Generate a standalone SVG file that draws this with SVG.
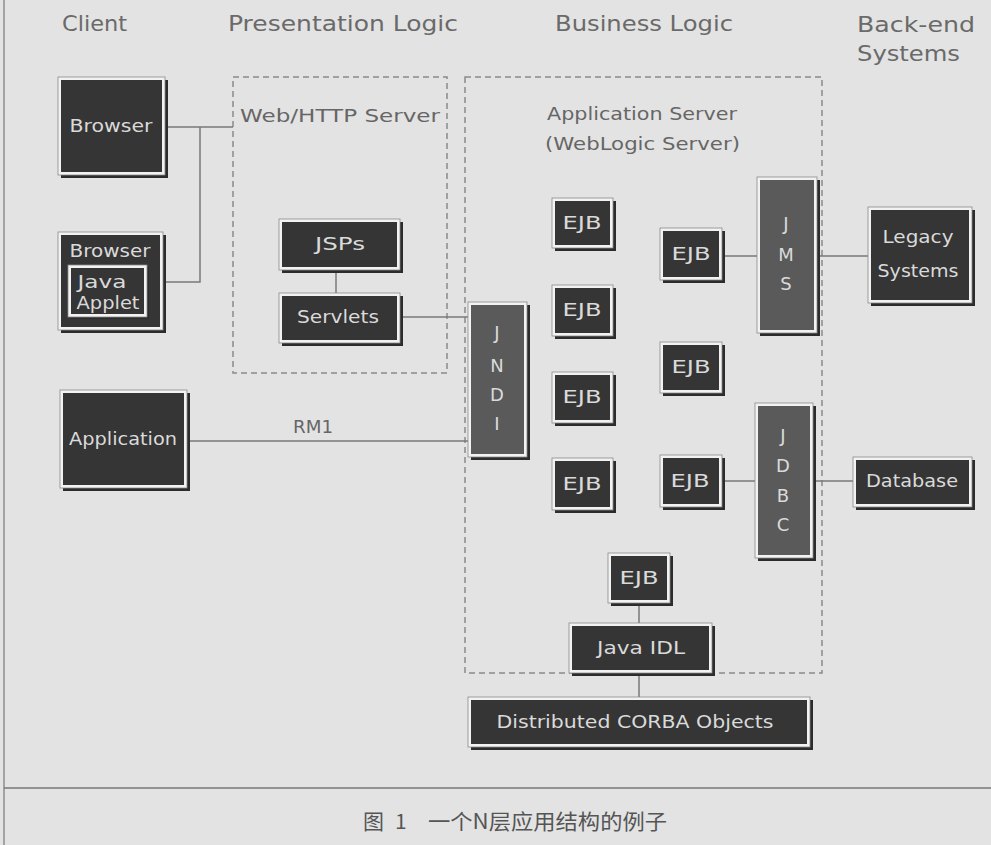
<svg xmlns="http://www.w3.org/2000/svg" width="991" height="845" viewBox="0 0 991 845">
<style>
.bg{fill:#e3e3e3}
.sh{fill:#2c2c2c}
.bv{fill:#f2f2f2;stroke:#8a8a8a;stroke-width:0.8}
.in{fill:#353535}
.inm{fill:#5a5a5a}
.t{font-family:"DejaVu Sans","Liberation Sans",sans-serif;font-size:18px;fill:#dadada;text-anchor:middle}
.h{font-family:"DejaVu Sans","Liberation Sans",sans-serif;font-size:21px;fill:#6a6a6a}
.l{font-family:"DejaVu Sans","Liberation Sans",sans-serif;font-size:17px;fill:#666}
.dash{fill:none;stroke:#8a8a8a;stroke-width:1.5;stroke-dasharray:6 4}
.c{fill:none;stroke:#7a7a7a;stroke-width:1.5}
.cap{font-family:"Noto Sans CJK SC",sans-serif;font-size:21px;fill:#555}
</style>
<rect class="bg" x="0" y="0" width="991" height="845"/>
<line x1="4" y1="0" x2="4" y2="845" stroke="#777" stroke-width="1.2"/>
<line x1="4" y1="788" x2="991" y2="788" stroke="#777" stroke-width="1.5"/>

<g id="headers">
<text class="h" x="62" y="31" textLength="65" lengthAdjust="spacingAndGlyphs">Client</text>
<text class="h" x="228" y="31" textLength="230" lengthAdjust="spacingAndGlyphs">Presentation Logic</text>
<text class="h" x="555" y="31" textLength="178" lengthAdjust="spacingAndGlyphs">Business Logic</text>
<text class="h" x="857" y="32" textLength="118" lengthAdjust="spacingAndGlyphs">Back-end</text>
<text class="h" x="857" y="61" textLength="103" lengthAdjust="spacingAndGlyphs">Systems</text>
</g>

<g id="web-server">
<rect class="dash" x="233" y="77" width="214" height="296"/>
<text class="l" x="240" y="122" textLength="200" lengthAdjust="spacingAndGlyphs">Web/HTTP Server</text>
</g>
<g id="app-server">
<rect class="dash" x="465" y="77" width="357" height="596"/>
<text class="l" x="547" y="120" textLength="190" lengthAdjust="spacingAndGlyphs">Application Server</text>
<text class="l" x="545" y="150" textLength="195" lengthAdjust="spacingAndGlyphs">(WebLogic Server)</text>
</g>

<g id="connectors">
<path class="c" d="M165,127 H233 M200,127 V282 H165"/>
<path class="c" d="M336,270 V293"/>
<path class="c" d="M400,317 H468"/>
<path class="c" d="M187,441 H468"/>
<path class="c" d="M722,256 H757 M817,256 H868"/>
<path class="c" d="M722,481 H755 M813,481 H853"/>
<path class="c" d="M639,603 V623 M639,673 V697"/>
<text class="l" x="313" y="433" text-anchor="middle" textLength="40" lengthAdjust="spacingAndGlyphs">RM1</text>
</g>

<g id="browser1">
<rect class="sh" x="61" y="80" width="107" height="98"/>
<rect class="bv" x="58" y="77" width="107" height="98"/>
<rect class="in" x="61" y="80" width="101" height="92"/>
<text class="t" x="111" y="132" textLength="83" lengthAdjust="spacingAndGlyphs">Browser</text>
</g>
<g id="browser2">
<rect class="sh" x="61" y="235" width="105" height="98"/>
<rect class="bv" x="58" y="232" width="105" height="98"/>
<rect class="in" x="61" y="235" width="99" height="92"/>
<text class="t" x="110" y="257" textLength="81" lengthAdjust="spacingAndGlyphs">Browser</text>
<rect class="sh" x="70" y="267" width="79" height="52"/>
<rect class="bv" x="68" y="265" width="79" height="52"/>
<rect class="in" x="71" y="268" width="73" height="46"/>
<text class="t" x="102" y="288" textLength="49" lengthAdjust="spacingAndGlyphs">Java</text>
<text class="t" x="108" y="309" textLength="63" lengthAdjust="spacingAndGlyphs">Applet</text>
</g>
<g id="application">
<rect class="sh" x="63" y="393" width="127" height="98"/>
<rect class="bv" x="60" y="390" width="127" height="98"/>
<rect class="in" x="63" y="393" width="121" height="92"/>
<text class="t" x="123" y="445" textLength="108" lengthAdjust="spacingAndGlyphs">Application</text>
</g>
<g id="jsps">
<rect class="sh" x="282" y="222" width="121" height="51"/>
<rect class="bv" x="279" y="219" width="121" height="51"/>
<rect class="in" x="282" y="222" width="115" height="45"/>
<text class="t" x="340" y="250" textLength="50" lengthAdjust="spacingAndGlyphs">JSPs</text>
</g>
<g id="servlets">
<rect class="sh" x="282" y="296" width="121" height="50"/>
<rect class="bv" x="279" y="293" width="121" height="50"/>
<rect class="in" x="282" y="296" width="115" height="44"/>
<text class="t" x="338" y="323" textLength="82" lengthAdjust="spacingAndGlyphs">Servlets</text>
</g>
<g id="jndi">
<rect class="sh" x="471" y="305" width="59" height="155"/>
<rect class="bv" x="468" y="302" width="59" height="155"/>
<rect class="inm" x="471" y="305" width="53" height="149"/>
<text class="t" x="497" y="339">J</text>
<text class="t" x="497" y="372">N</text>
<text class="t" x="497" y="401">D</text>
<text class="t" x="497" y="430">I</text>
</g>
<g id="ejb1">
<rect class="sh" x="555" y="201" width="61" height="50"/>
<rect class="bv" x="552" y="198" width="61" height="50"/>
<rect class="in" x="555" y="201" width="55" height="44"/>
<text class="t" x="582" y="229" textLength="39" lengthAdjust="spacingAndGlyphs">EJB</text>
</g>
<g id="ejb2">
<rect class="sh" x="555" y="288" width="61" height="51"/>
<rect class="bv" x="552" y="285" width="61" height="51"/>
<rect class="in" x="555" y="288" width="55" height="45"/>
<text class="t" x="582" y="316" textLength="39" lengthAdjust="spacingAndGlyphs">EJB</text>
</g>
<g id="ejb3">
<rect class="sh" x="555" y="375" width="61" height="51"/>
<rect class="bv" x="552" y="372" width="61" height="51"/>
<rect class="in" x="555" y="375" width="55" height="45"/>
<text class="t" x="582" y="403" textLength="39" lengthAdjust="spacingAndGlyphs">EJB</text>
</g>
<g id="ejb4">
<rect class="sh" x="555" y="461" width="61" height="52"/>
<rect class="bv" x="552" y="458" width="61" height="52"/>
<rect class="in" x="555" y="461" width="55" height="46"/>
<text class="t" x="582" y="490" textLength="39" lengthAdjust="spacingAndGlyphs">EJB</text>
</g>
<g id="ejb5">
<rect class="sh" x="663" y="231" width="62" height="52"/>
<rect class="bv" x="660" y="228" width="62" height="52"/>
<rect class="in" x="663" y="231" width="56" height="46"/>
<text class="t" x="691" y="260" textLength="39" lengthAdjust="spacingAndGlyphs">EJB</text>
</g>
<g id="ejb6">
<rect class="sh" x="663" y="345" width="62" height="51"/>
<rect class="bv" x="660" y="342" width="62" height="51"/>
<rect class="in" x="663" y="345" width="56" height="45"/>
<text class="t" x="691" y="373" textLength="39" lengthAdjust="spacingAndGlyphs">EJB</text>
</g>
<g id="ejb7">
<rect class="sh" x="663" y="458" width="62" height="52"/>
<rect class="bv" x="660" y="455" width="62" height="52"/>
<rect class="in" x="663" y="458" width="56" height="46"/>
<text class="t" x="690" y="487" textLength="39" lengthAdjust="spacingAndGlyphs">EJB</text>
</g>
<g id="jms">
<rect class="sh" x="760" y="180" width="60" height="156"/>
<rect class="bv" x="757" y="177" width="60" height="156"/>
<rect class="inm" x="760" y="180" width="54" height="150"/>
<text class="t" x="786" y="230">J</text>
<text class="t" x="786" y="261">M</text>
<text class="t" x="786" y="290">S</text>
</g>
<g id="jdbc">
<rect class="sh" x="758" y="406" width="58" height="155"/>
<rect class="bv" x="755" y="403" width="58" height="155"/>
<rect class="inm" x="758" y="406" width="52" height="149"/>
<text class="t" x="783" y="442">J</text>
<text class="t" x="783" y="472">D</text>
<text class="t" x="783" y="502">B</text>
<text class="t" x="783" y="531">C</text>
</g>
<g id="legacy">
<rect class="sh" x="871" y="210" width="104" height="96"/>
<rect class="bv" x="868" y="207" width="104" height="96"/>
<rect class="in" x="871" y="210" width="98" height="90"/>
<text class="t" x="918" y="243" textLength="71" lengthAdjust="spacingAndGlyphs">Legacy</text>
<text class="t" x="918" y="277" textLength="81" lengthAdjust="spacingAndGlyphs">Systems</text>
</g>
<g id="database">
<rect class="sh" x="856" y="460" width="119" height="50"/>
<rect class="bv" x="853" y="457" width="119" height="50"/>
<rect class="in" x="856" y="460" width="113" height="44"/>
<text class="t" x="912" y="487" textLength="92" lengthAdjust="spacingAndGlyphs">Database</text>
</g>
<g id="ejb8">
<rect class="sh" x="611" y="556" width="62" height="50"/>
<rect class="bv" x="608" y="553" width="62" height="50"/>
<rect class="in" x="611" y="556" width="56" height="44"/>
<text class="t" x="639" y="584" textLength="39" lengthAdjust="spacingAndGlyphs">EJB</text>
</g>
<g id="java-idl">
<rect class="sh" x="572" y="626" width="143" height="50"/>
<rect class="bv" x="569" y="623" width="143" height="50"/>
<rect class="in" x="572" y="626" width="137" height="44"/>
<text class="t" x="641" y="654" textLength="88" lengthAdjust="spacingAndGlyphs">Java IDL</text>
</g>
<g id="corba">
<rect class="sh" x="471" y="700" width="342" height="50"/>
<rect class="bv" x="468" y="697" width="342" height="50"/>
<rect class="in" x="471" y="700" width="336" height="44"/>
<text class="t" x="635" y="728" textLength="277" lengthAdjust="spacingAndGlyphs">Distributed CORBA Objects</text>
</g>

<g id="caption">
<text class="cap" x="363" y="829">图</text>
<text class="cap" x="395" y="829">1</text>
<text class="cap" x="428" y="829" textLength="239" lengthAdjust="spacingAndGlyphs">一个N层应用结构的例子</text>
</g>
</svg>
